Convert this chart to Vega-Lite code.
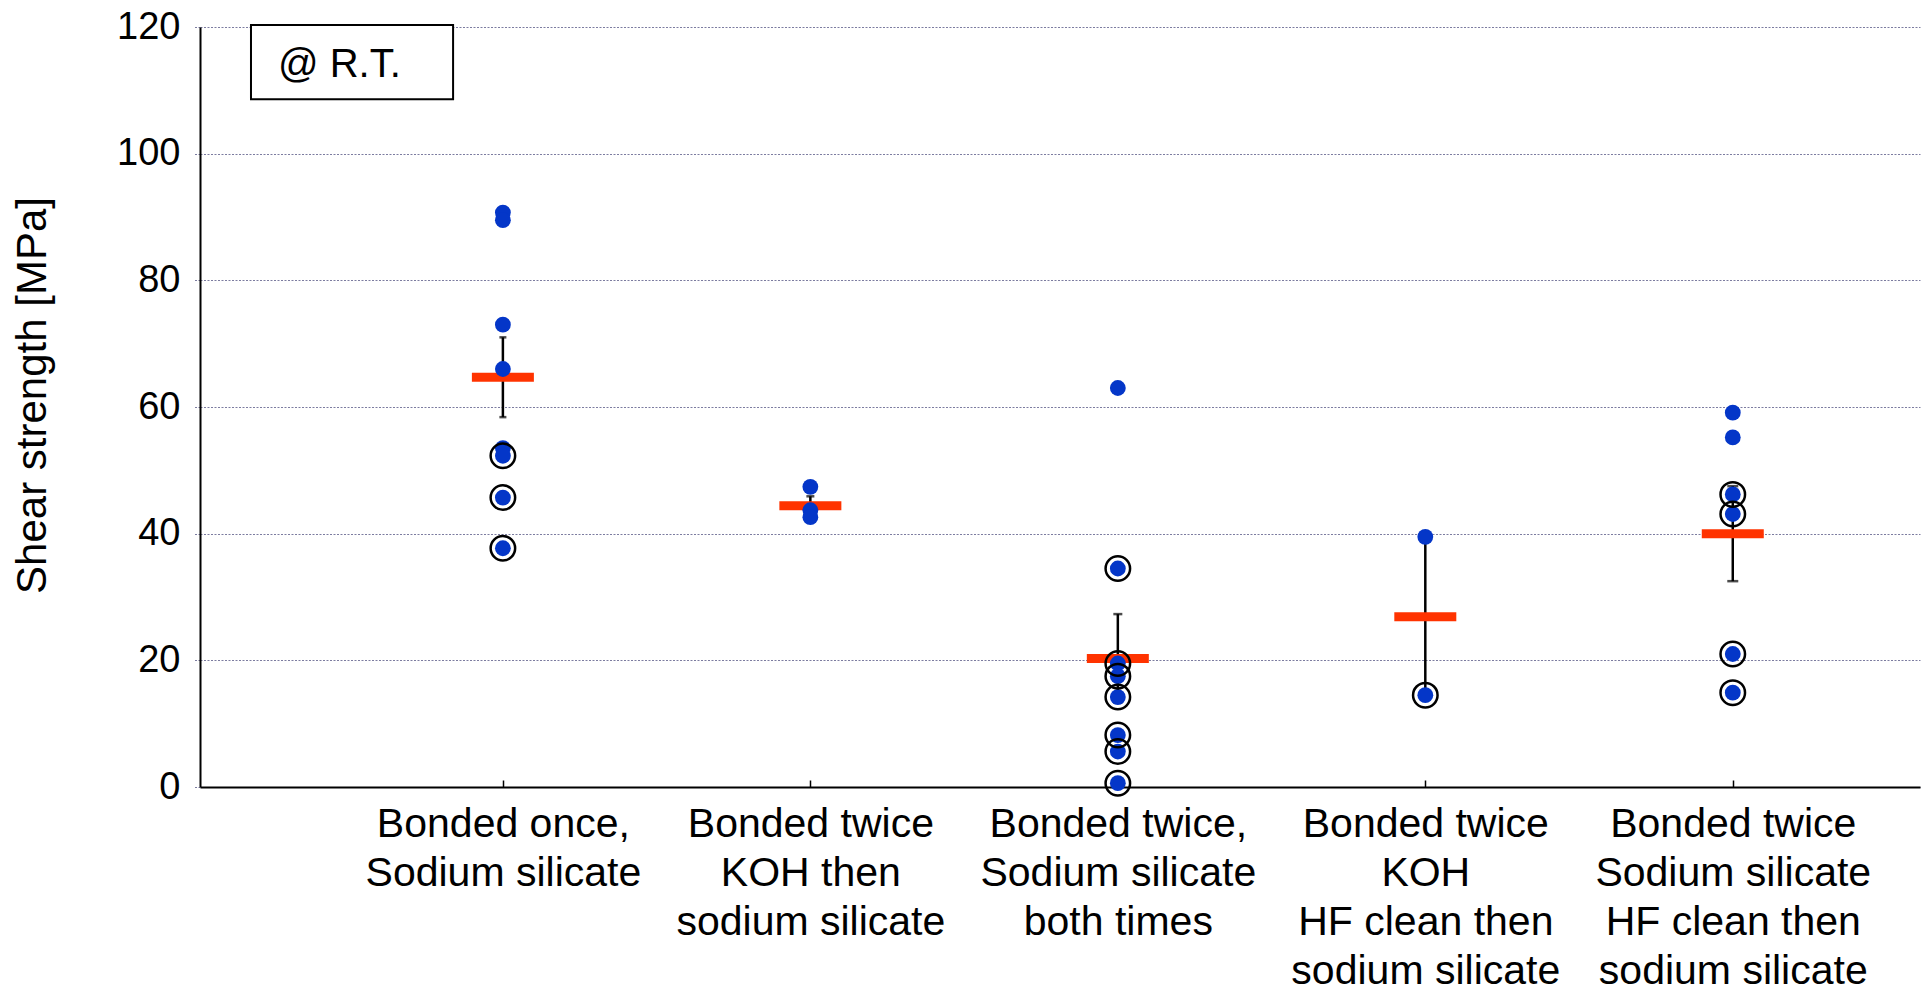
{
  "$schema": "https://vega.github.io/schema/vega-lite/v6.json",
  "width": 1720,
  "height": 760,
  "autosize": {"type": "none"},
  "padding": {"left": 200, "top": 27, "right": 3, "bottom": 205},
  "background": "white",
  "config": {
    "font": "Liberation Sans",
    "view": {"stroke": null},
    "axisY": {
      "domainColor": "black", "domainWidth": 2,
      "gridColor": "#7c7ca0", "gridDash": [2, 1.5], "gridWidth": 1.2,
      "tickColor": "#7c7ca0", "tickSize": 6, "tickWidth": 1.2, "tickDash": [2, 1.5],
      "labelFontSize": 38, "labelColor": "black", "labelPadding": 14,
      "titleFontSize": 42, "titleFontWeight": "normal", "titleColor": "black", "titlePadding": 62,
      "titleY": 368
    },
    "axisX": {
      "domainColor": "black", "domainWidth": 2,
      "tickColor": "black", "tickSize": -7, "tickWidth": 1.5,
      "labelFontSize": 41, "labelLineHeight": 49, "labelColor": "black", "labelLimit": 0,
      "labelAngle": 0, "labelPadding": 24, "grid": false
    }
  },
  "datasets": {
    "specimens": [
      {"group": "Bonded once,\nSodium silicate", "strength": 90.7, "marked": false},
      {"group": "Bonded once,\nSodium silicate", "strength": 89.5, "marked": false},
      {"group": "Bonded once,\nSodium silicate", "strength": 73.0, "marked": false},
      {"group": "Bonded once,\nSodium silicate", "strength": 66.0, "marked": false},
      {"group": "Bonded once,\nSodium silicate", "strength": 53.5, "marked": false},
      {"group": "Bonded once,\nSodium silicate", "strength": 52.3, "marked": true},
      {"group": "Bonded once,\nSodium silicate", "strength": 45.7, "marked": true},
      {"group": "Bonded once,\nSodium silicate", "strength": 37.7, "marked": true},
      {"group": "Bonded twice\nKOH then\nsodium silicate", "strength": 47.4, "marked": false},
      {"group": "Bonded twice\nKOH then\nsodium silicate", "strength": 43.7, "marked": false},
      {"group": "Bonded twice\nKOH then\nsodium silicate", "strength": 42.6, "marked": false},
      {"group": "Bonded twice,\nSodium silicate\nboth times", "strength": 63.0, "marked": false},
      {"group": "Bonded twice,\nSodium silicate\nboth times", "strength": 34.5, "marked": true},
      {"group": "Bonded twice,\nSodium silicate\nboth times", "strength": 19.5, "marked": true},
      {"group": "Bonded twice,\nSodium silicate\nboth times", "strength": 17.5, "marked": true},
      {"group": "Bonded twice,\nSodium silicate\nboth times", "strength": 14.2, "marked": true},
      {"group": "Bonded twice,\nSodium silicate\nboth times", "strength": 8.2, "marked": true},
      {"group": "Bonded twice,\nSodium silicate\nboth times", "strength": 5.6, "marked": true},
      {"group": "Bonded twice,\nSodium silicate\nboth times", "strength": 0.6, "marked": true},
      {"group": "Bonded twice\nKOH\nHF clean then\nsodium silicate", "strength": 39.5, "marked": false},
      {"group": "Bonded twice\nKOH\nHF clean then\nsodium silicate", "strength": 14.5, "marked": true},
      {"group": "Bonded twice\nSodium silicate\nHF clean then\nsodium silicate", "strength": 59.1, "marked": false},
      {"group": "Bonded twice\nSodium silicate\nHF clean then\nsodium silicate", "strength": 55.2, "marked": false},
      {"group": "Bonded twice\nSodium silicate\nHF clean then\nsodium silicate", "strength": 46.2, "marked": true},
      {"group": "Bonded twice\nSodium silicate\nHF clean then\nsodium silicate", "strength": 43.1, "marked": true},
      {"group": "Bonded twice\nSodium silicate\nHF clean then\nsodium silicate", "strength": 21.0, "marked": true},
      {"group": "Bonded twice\nSodium silicate\nHF clean then\nsodium silicate", "strength": 14.9, "marked": true}
    ],
    "summary": [
      {"group": "Bonded once,\nSodium silicate", "mean": 64.7, "lo": 58.4, "hi": 71.0},
      {"group": "Bonded twice\nKOH then\nsodium silicate", "mean": 44.4, "lo": 43.0, "hi": 45.9},
      {"group": "Bonded twice,\nSodium silicate\nboth times", "mean": 20.3, "lo": 13.3, "hi": 27.3},
      {"group": "Bonded twice\nKOH\nHF clean then\nsodium silicate", "mean": 26.9, "lo": 14.5, "hi": 39.5},
      {"group": "Bonded twice\nSodium silicate\nHF clean then\nsodium silicate", "mean": 40.0, "lo": 32.5, "hi": 47.5}
    ],
    "note": [
      {"label": "@ R.T."}
    ]
  },
  "layer": [
    {
      "encoding": {
        "x": {
          "field": "group",
          "type": "nominal",
          "title": null,
          "scale": {
            "type": "point",
            "domain": [
              "Bonded once,\nSodium silicate",
              "Bonded twice\nKOH then\nsodium silicate",
              "Bonded twice,\nSodium silicate\nboth times",
              "Bonded twice\nKOH\nHF clean then\nsodium silicate",
              "Bonded twice\nSodium silicate\nHF clean then\nsodium silicate"
            ],
            "padding": 0.797,
            "align": 0.618
          },
          "axis": {"labelExpr": "split(datum.label, '\\n')"}
        }
      },
      "layer": [
        {
          "data": {"name": "summary"},
          "mark": {"type": "rule", "color": "black", "strokeWidth": 2.5},
          "encoding": {
            "y": {"field": "lo", "type": "quantitative", "title": "Shear strength [MPa]",
                  "scale": {"domain": [0, 120], "nice": false},
                  "axis": {"values": [0, 20, 40, 60, 80, 100, 120]}},
            "y2": {"field": "hi"}
          }
        },
        {
          "data": {"name": "summary"},
          "mark": {"type": "tick", "color": "black", "thickness": 2.5},
          "encoding": {
            "y": {"field": "hi", "type": "quantitative", "title": "Shear strength [MPa]"},
            "size": {"field": "group", "type": "ordinal", "legend": null,
                     "scale": {"domain": [
                       "Bonded once,\nSodium silicate",
                       "Bonded twice\nKOH then\nsodium silicate",
                       "Bonded twice,\nSodium silicate\nboth times",
                       "Bonded twice\nKOH\nHF clean then\nsodium silicate",
                       "Bonded twice\nSodium silicate\nHF clean then\nsodium silicate"
                     ], "range": [7, 11, 19, 24, 29]}}
          }
        },
        {
          "data": {"name": "summary"},
          "mark": {"type": "tick", "color": "black", "thickness": 2.5},
          "encoding": {
            "y": {"field": "lo", "type": "quantitative", "title": "Shear strength [MPa]"},
            "size": {"field": "group", "type": "ordinal", "legend": null}
          }
        },
        {
          "data": {"name": "summary"},
          "mark": {"type": "tick", "color": "#ff3300", "thickness": 9, "size": 62, "opacity": 1},
          "encoding": {
            "y": {"field": "mean", "type": "quantitative", "title": "Shear strength [MPa]"}
          }
        },
        {
          "data": {"name": "specimens"},
          "mark": {"type": "point", "shape": "circle", "filled": true, "color": "#0436c8", "size": 250, "opacity": 1},
          "encoding": {
            "y": {"field": "strength", "type": "quantitative", "title": "Shear strength [MPa]"}
          }
        },
        {
          "data": {"name": "specimens"},
          "transform": [{"filter": "datum.marked"}],
          "mark": {"type": "point", "shape": "circle", "filled": false, "stroke": "black", "strokeWidth": 2.5, "size": 600, "opacity": 1},
          "encoding": {
            "y": {"field": "strength", "type": "quantitative", "title": "Shear strength [MPa]"}
          }
        }
      ]
    },
    {
      "data": {"name": "note"},
      "layer": [
        {
          "mark": {"type": "rect", "fill": "white", "stroke": "black", "strokeWidth": 2},
          "encoding": {
            "x": {"datum": 0.166, "type": "quantitative", "scale": {"domain": [0, 5.6], "nice": false, "zero": false}, "axis": null},
            "x2": {"datum": 0.824},
            "y": {"datum": 108.6, "type": "quantitative"},
            "y2": {"datum": 120.3}
          }
        },
        {
          "mark": {"type": "text", "align": "left", "baseline": "alphabetic", "fontSize": 40, "color": "black"},
          "encoding": {
            "x": {"datum": 0.254, "type": "quantitative", "axis": null},
            "y": {"datum": 112.1, "type": "quantitative"},
            "text": {"field": "label"}
          }
        }
      ]
    }
  ],
  "resolve": {"scale": {"x": "independent"}, "axis": {"x": "independent"}}
}
